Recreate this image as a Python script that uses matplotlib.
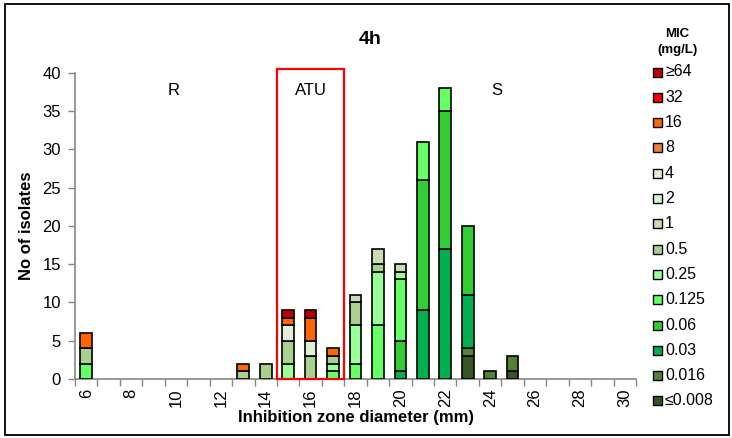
import numpy as np
import matplotlib
matplotlib.use("Agg")
import matplotlib.pyplot as plt
from matplotlib.patches import Rectangle

plt.rcParams['font.family'] = ['Liberation Sans', 'DejaVu Sans']

# Inhibition zone diameters (mm)
diameters = list(range(6, 31))
x_tick_labels = [str(d) for d in range(6, 31, 2)]

# MIC categories (mg/L), from highest to lowest (legend order)
mic_labels = ['≥64', '32', '16', '8', '4', '2', '1', '0.5', '0.25', '0.125',
              '0.06', '0.03', '0.016', '≤0.008']
mic_colors = ['#C00000', '#FF0000', '#FF6600', '#F08040', '#E3EDDA', '#D3F7D3',
              '#C6DDB6', '#A9D08E', '#99FF99', '#66FF66', '#33CC33', '#00B050',
              '#548235', '#375623']

#            6  7  8  9 10 11 12 13 14 15 16 17 18 19 20 21 22 23 24 25 26 27 28 29 30
n_ge64   = [0, 0, 0, 0, 0, 0, 0, 0, 0, 1, 1, 0, 0, 0, 0, 0, 0, 0, 0, 0, 0, 0, 0, 0, 0]
n_32     = [0, 0, 0, 0, 0, 0, 0, 0, 0, 0, 0, 0, 0, 0, 0, 0, 0, 0, 0, 0, 0, 0, 0, 0, 0]
n_16     = [2, 0, 0, 0, 0, 0, 0, 1, 0, 1, 3, 1, 0, 0, 0, 0, 0, 0, 0, 0, 0, 0, 0, 0, 0]
n_8      = [0, 0, 0, 0, 0, 0, 0, 0, 0, 0, 0, 0, 0, 0, 0, 0, 0, 0, 0, 0, 0, 0, 0, 0, 0]
n_4      = [0, 0, 0, 0, 0, 0, 0, 0, 0, 2, 2, 0, 0, 0, 0, 0, 0, 0, 0, 0, 0, 0, 0, 0, 0]
n_2      = [0, 0, 0, 0, 0, 0, 0, 0, 0, 0, 0, 0, 0, 0, 0, 0, 0, 0, 0, 0, 0, 0, 0, 0, 0]
n_1      = [0, 0, 0, 0, 0, 0, 0, 0, 0, 0, 0, 0, 1, 2, 1, 0, 0, 0, 0, 0, 0, 0, 0, 0, 0]
n_0_5    = [2, 0, 0, 0, 0, 0, 0, 1, 2, 3, 3, 1, 3, 1, 0, 0, 0, 0, 0, 0, 0, 0, 0, 0, 0]
n_0_25   = [0, 0, 0, 0, 0, 0, 0, 0, 0, 2, 0, 1, 5, 7, 1, 0, 0, 0, 0, 0, 0, 0, 0, 0, 0]
n_0_125  = [2, 0, 0, 0, 0, 0, 0, 0, 0, 0, 0, 1, 2, 7, 8, 5, 3, 0, 0, 0, 0, 0, 0, 0, 0]
n_0_06   = [0, 0, 0, 0, 0, 0, 0, 0, 0, 0, 0, 0, 0, 0, 4, 17, 18, 9, 0, 0, 0, 0, 0, 0, 0]
n_0_03   = [0, 0, 0, 0, 0, 0, 0, 0, 0, 0, 0, 0, 0, 0, 1, 9, 17, 7, 0, 0, 0, 0, 0, 0, 0]
n_0_016  = [0, 0, 0, 0, 0, 0, 0, 0, 0, 0, 0, 0, 0, 0, 0, 0, 0, 1, 1, 2, 0, 0, 0, 0, 0]
n_le0008 = [0, 0, 0, 0, 0, 0, 0, 0, 0, 0, 0, 0, 0, 0, 0, 0, 0, 3, 0, 1, 0, 0, 0, 0, 0]

series = [n_ge64, n_32, n_16, n_8, n_4, n_2, n_1, n_0_5, n_0_25, n_0_125,
          n_0_06, n_0_03, n_0_016, n_le0008]

W, H = 732, 438
fig = plt.figure(figsize=(W / 100, H / 100), dpi=100)
ax = fig.add_axes([75 / W, 1 - 379 / H, (636 - 75) / W, (379 - 72.7) / H])

# stack from lowest MIC at the bottom to highest at the top
x = np.array(diameters, dtype=float)
bottom = np.zeros(len(diameters))
for vals, col in zip(series[::-1], mic_colors[::-1]):
    v = np.array(vals, dtype=float)
    nz = v > 0
    if nz.any():
        ax.bar(x[nz], v[nz], width=0.52, bottom=bottom[nz], color=col,
               edgecolor='black', linewidth=1.2, zorder=3)
    bottom += v

grey = '#868686'
ax.set_xlim(5.5, 30.5)
ax.set_ylim(0, 40)
ax.set_yticks(range(0, 41, 5))
ax.set_xticks(np.arange(5.5, 31, 1), minor=False)
ax.set_xticklabels([])
ax.set_xticks(range(6, 31, 2), minor=True)
ax.set_xticklabels(x_tick_labels, minor=True, rotation=90)
ax.tick_params(axis='x', which='major', length=5, width=1, color=grey)
ax.tick_params(axis='x', which='minor', length=0, labelsize=12, pad=7)
ax.tick_params(axis='y', length=5, width=1, color=grey, labelsize=12, pad=5)
for s in ['top', 'right']:
    ax.spines[s].set_visible(False)
for s in ['left', 'bottom']:
    ax.spines[s].set_color(grey)
    ax.spines[s].set_linewidth(1.2)

ax.set_xlabel('Inhibition zone diameter (mm)', fontsize=12, fontweight='bold',
              labelpad=2)
ax.set_ylabel('No of isolates', fontsize=12, fontweight='bold', labelpad=6)

# resistance category regions
ax.add_patch(Rectangle((14.5, 0), 3.0, 40.5, fill=False, edgecolor='#FF0000',
                       linewidth=1.6, clip_on=False, zorder=4))
ax.text(9.9, 37.7, 'R', ha='center', va='center', fontsize=12)
ax.text(16.0, 37.7, 'ATU', ha='center', va='center', fontsize=12)
ax.text(24.3, 37.7, 'S', ha='center', va='center', fontsize=12)

fig.text(370 / W, 1 - 39 / H, '4h', ha='center', va='center', fontsize=14,
         fontweight='bold')

# legend
fig.text(677 / W, 1 - 42 / H, 'MIC\n(mg/L)', ha='center', va='center',
         fontsize=9.5, fontweight='bold', linespacing=1.35)
y0, dy = 72.0, 25.3
for i, (lab, col) in enumerate(zip(mic_labels, mic_colors)):
    yc = y0 + i * dy
    fig.patches.append(Rectangle((653 / W, 1 - (yc + 4.5) / H), 9 / W, 9 / H,
                                 facecolor=col, edgecolor='black', linewidth=1.0,
                                 transform=fig.transFigure, figure=fig))
    fig.text(665 / W, 1 - yc / H, lab, ha='left', va='center', fontsize=11.5)

# outer frame
fig.patches.append(Rectangle((5 / W, 1 - 435 / H), 724 / W, 431 / H, fill=False,
                             edgecolor='black', linewidth=1.3,
                             transform=fig.transFigure, figure=fig))

fig.savefig('out.png', dpi=100)
